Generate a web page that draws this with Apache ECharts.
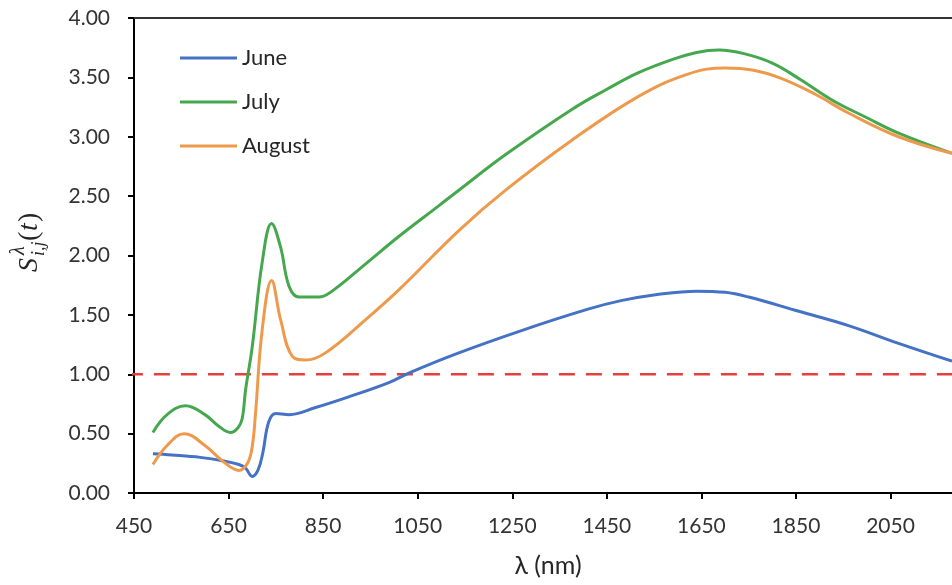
<!DOCTYPE html>
<html>
<head>
<meta charset="utf-8">
<script src="https://cdn.jsdelivr.net/npm/echarts@6/dist/echarts.min.js"></script>
<style>
  html, body { margin: 0; padding: 0; background: #fff; }
  #app { width: 952px; height: 585px; }
</style>
</head>
<body>
<div id="app"></div>
<script>
const app = document.getElementById("app");
const myChart = echarts.init(app);

// wavelength (nm) / value pairs
const juneX = [490, 530, 590, 640, 672, 686, 700, 712, 722, 735, 750, 778, 834, 904, 989, 1031, 1130, 1271, 1412, 1480, 1553, 1640, 1700, 1750, 1856, 1961, 2067, 2180];
const juneY = [0.33, 0.32, 0.30, 0.27, 0.24, 0.21, 0.14, 0.19, 0.33, 0.60, 0.67, 0.66, 0.72, 0.81, 0.93, 1.01, 1.17, 1.37, 1.55, 1.62, 1.67, 1.70, 1.69, 1.65, 1.53, 1.41, 1.26, 1.11];

const julyX = [490, 520, 559, 600, 630, 654, 670, 679, 686, 700, 721, 741, 760, 778, 799, 841, 869, 940, 1010, 1095, 1137, 1236, 1376, 1450, 1517, 1588, 1640, 1687, 1740, 1800, 1860, 1926, 2000, 2067, 2180];
const julyY = [0.51, 0.66, 0.735, 0.66, 0.56, 0.51, 0.55, 0.63, 0.87, 1.23, 1.94, 2.27, 2.07, 1.74, 1.65, 1.65, 1.70, 1.93, 2.16, 2.42, 2.55, 2.85, 3.23, 3.40, 3.54, 3.65, 3.71, 3.73, 3.70, 3.62, 3.48, 3.31, 3.16, 3.03, 2.86];

const augX = [490, 520, 556, 600, 640, 672, 690, 700, 707, 721, 741, 760, 785, 813, 855, 940, 1010, 1137, 1236, 1376, 1517, 1623, 1700, 1760, 1820, 1890, 1961, 2067, 2180];
const augY = [0.24, 0.40, 0.50, 0.40, 0.26, 0.19, 0.25, 0.39, 0.67, 1.37, 1.79, 1.46, 1.15, 1.12, 1.18, 1.46, 1.71, 2.21, 2.55, 2.97, 3.34, 3.53, 3.58, 3.56, 3.49, 3.36, 3.20, 3.00, 2.86];

const refX = [435, 2180];
const refY = [1, 1];

const zip = (xs, ys) => xs.map((x, i) => [x, ys[i]]);

const font = "Lato";
const mathFont = "Liberation Serif";

function mathText(x, y, text, size, italic) {
  return {
    type: "text",
    x: x,
    y: y,
    style: {
      text: text,
      fontFamily: mathFont,
      fontStyle: italic ? "italic" : "normal",
      fontSize: size,
      fill: "#262626",
      align: "left",
      verticalAlign: "middle",
      textAlign: "left",
      textVerticalAlign: "middle",
    },
  };
}

const option = {
  backgroundColor: "#fff",
  animation: false,
  grid: {
    left: 134,
    top: 18,
    right: 0,
    bottom: 92,
  },
  legend: {
    orient: "vertical",
    left: 175,
    top: 42,
    icon: "rect",
    itemWidth: 57,
    itemHeight: 3,
    itemGap: 22,
    textStyle: {
      fontFamily: font,
      fontSize: 22,
      lineHeight: 22,
      color: "#262626",
    },
    data: [
      { name: "June", itemStyle: { color: "#4472C4" } },
      { name: "July", itemStyle: { color: "#45A84E" } },
      { name: "August", itemStyle: { color: "#EE9A4D" } },
    ],
  },
  xAxis: [
    {
      type: "value",
      min: 450,
      max: 2180,
      interval: 200,
      name: "λ (nm)",
      nameLocation: "middle",
      nameGap: 60,
      nameTextStyle: {
        fontFamily: font,
        fontSize: 25,
        color: "#262626",
        padding: [0, 0, 0, 10],
      },
      axisLine: { show: true, lineStyle: { color: "#000", width: 2 } },
      axisTick: { show: true, length: 6, lineStyle: { color: "#000", width: 2 } },
      axisLabel: {
        margin: 23,
        fontFamily: font,
        fontSize: 21,
        color: "#333",
        showMaxLabel: false,
        formatter: (v) => String(v),
      },
      splitLine: { show: false },
    },
    {
      type: "value",
      position: "top",
      min: 450,
      max: 2180,
      axisLine: { show: true, lineStyle: { color: "#333", width: 2 } },
      axisTick: { show: false },
      axisLabel: { show: false },
      splitLine: { show: false },
    },
  ],
  yAxis: {
    type: "value",
    min: 0,
    max: 4,
    interval: 0.5,
    axisLine: { show: true, lineStyle: { color: "#000", width: 2 } },
    axisTick: { show: true, length: 6, lineStyle: { color: "#000", width: 2 } },
    axisLabel: {
      margin: 24,
      fontFamily: font,
      fontSize: 21,
      color: "#333",
      formatter: (v) => v.toFixed(2),
    },
    splitLine: { show: false },
  },
  graphic: [
    {
      type: "group",
      x: 30,
      y: 241,
      rotation: Math.PI / 2,
      children: [
        mathText(-31, 0, "S", 28, true),
        mathText(-14, -11, "λ", 20, true),
        mathText(-15, 9, "i,j", 18, true),
        mathText(0, 0, "(", 28, false),
        mathText(10, 0, "t", 28, true),
        mathText(19, 0, ")", 28, false),
      ],
    },
  ],
  series: [
    {
      name: "ref",
      type: "line",
      data: zip(refX, refY),
      symbol: "none",
      clip: false,
      silent: true,
      lineStyle: { color: "#E3403D", width: 2.5, type: [16, 11] },
      z: 1,
    },
    {
      name: "June",
      type: "line",
      data: zip(juneX, juneY),
      smooth: 0.4,
      symbol: "none",
      lineStyle: { color: "#4472C4", width: 3 },
      itemStyle: { color: "#4472C4" },
      z: 3,
    },
    {
      name: "July",
      type: "line",
      data: zip(julyX, julyY),
      smooth: 0.4,
      symbol: "none",
      lineStyle: { color: "#45A84E", width: 3 },
      itemStyle: { color: "#45A84E" },
      z: 3,
    },
    {
      name: "August",
      type: "line",
      data: zip(augX, augY),
      smooth: 0.4,
      symbol: "none",
      lineStyle: { color: "#EE9A4D", width: 3 },
      itemStyle: { color: "#EE9A4D" },
      z: 3,
    },
  ],
};
myChart.setOption(option);
</script>
</body>
</html>
